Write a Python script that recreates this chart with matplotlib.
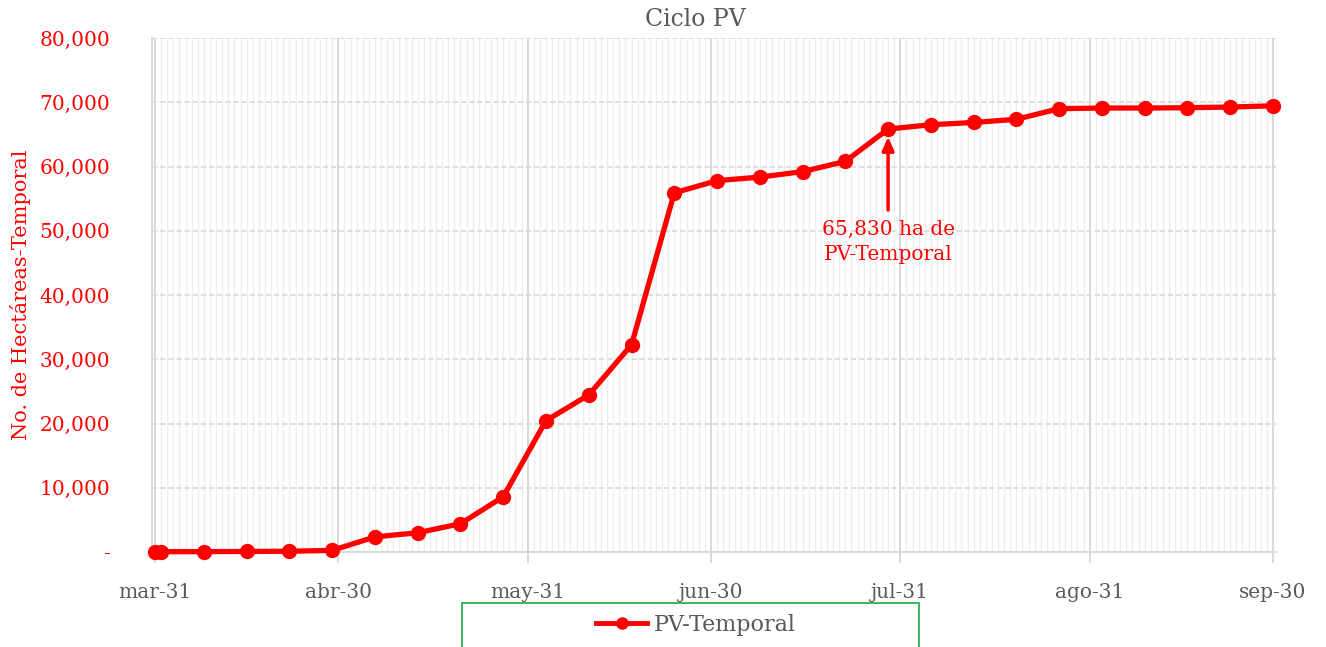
import numpy as np
import pandas as pd
import matplotlib
matplotlib.use("Agg")
import matplotlib.pyplot as plt
from matplotlib.patches import Rectangle
from matplotlib.ticker import FuncFormatter

# weekly cut-off dates and cumulative hectares
fechas = ["2021-03-31", "2021-04-01", "2021-04-08", "2021-04-15", "2021-04-22",
          "2021-04-29", "2021-05-06", "2021-05-13", "2021-05-20", "2021-05-27",
          "2021-06-03", "2021-06-10", "2021-06-17", "2021-06-24", "2021-07-01",
          "2021-07-08", "2021-07-15", "2021-07-22", "2021-07-29", "2021-08-05",
          "2021-08-12", "2021-08-19", "2021-08-26", "2021-09-02", "2021-09-09",
          "2021-09-16", "2021-09-23", "2021-09-30"]
hectareas = [0, 50, 60, 80, 120, 250, 2350, 3000, 4400, 8600,
             20450, 24450, 32250, 55900, 57800, 58350, 59200, 60800, 65830, 66500,
             66850, 67350, 69000, 69100, 69100, 69150, 69250, 69450]

meses = ["2021-03-31", "2021-04-30", "2021-05-31", "2021-06-30",
         "2021-07-31", "2021-08-31", "2021-09-30"]
etiquetas_mes = ["mar-31", "abr-30", "may-31", "jun-30", "jul-31", "ago-31", "sep-30"]

nota_fecha = "2021-07-29"
nota_valor = 65830

rojo = "#ff0000"
gris = "#595959"
plt.rcParams['font.family'] = ['DejaVu Serif']

x = pd.to_datetime(fechas)
xm = pd.to_datetime(meses)

fig = plt.figure(figsize=(13.26, 6.47), dpi=100)
ax = fig.add_axes([152 / 1326, 1 - 552 / 647, (1276 - 152) / 1326, (552 - 38) / 647])

# daily minor grid, monthly major grid
dias = pd.date_range(x[0], x[-1], freq="D")
ax.set_xticks(dias, minor=True)
ax.set_xticks(xm)
ax.set_xticklabels(etiquetas_mes)
ax.grid(which="minor", axis="x", color="#efefef", lw=1)
ax.grid(which="major", axis="x", color="#d9d9d9", lw=1.4)
ax.grid(which="major", axis="y", color="#dcdcdc", lw=1.3, ls=(0, (3, 1.5)))
ax.set_axisbelow(True)

ax.plot(x, hectareas, color=rojo, lw=3.8, marker="o", ms=10, label="PV-Temporal",
        zorder=3, clip_on=False)

ax.set_xlim(x[0] - pd.Timedelta(hours=12), x[-1] + pd.Timedelta(hours=12))
ax.set_ylim(0, 80000)
ax.set_yticks(np.arange(0, 80001, 10000))
ax.yaxis.set_major_formatter(FuncFormatter(lambda v, p: "-" if v == 0 else f"{v:,.0f}"))

for s in ["top", "right"]:
    ax.spines[s].set_visible(False)
for s in ["left", "bottom"]:
    ax.spines[s].set_color("#d9d9d9")
    ax.spines[s].set_linewidth(1.4)

ax.tick_params(axis="y", length=0, labelcolor=rojo, labelsize=14.5, pad=30)
ax.tick_params(axis="x", which="major", length=8, color="#d9d9d9", width=1.4,
               labelcolor=gris, labelsize=14.5, pad=14)
ax.tick_params(axis="x", which="minor", length=0)

fig.text(21 / 1326, 1 - 295 / 647, "No. de Hectáreas-Temporal", color=rojo, fontsize=15,
         rotation=90, ha="center", va="center")
fig.text(695 / 1326, 1 - 20 / 647, "Ciclo PV", color=gris, fontsize=17,
         ha="center", va="center")

# annotation
xn = pd.Timestamp(nota_fecha)
ax.annotate("", xy=(xn, nota_valor - 1200), xytext=(xn, nota_valor - 12600),
            arrowprops=dict(arrowstyle="-|>,head_width=0.35,head_length=0.8",
                            color=rojo, lw=2.5, shrinkA=0, shrinkB=0))
ax.text(xn, nota_valor - 17600, f"{nota_valor:,} ha de\nPV-Temporal", color=rojo,
        fontsize=14.5, ha="center", va="center", linespacing=1.4)

# legend box
fig.patches.append(Rectangle((462 / 1326, -0.05), (919 - 462) / 1326, 0.05 + 1 - 603 / 647,
                             transform=fig.transFigure, fill=False,
                             edgecolor="#2eb050", lw=1.3))
leg = fig.legend(loc="center", bbox_to_anchor=(0.525, 1 - 625 / 647), frameon=False,
                 fontsize=16, handlelength=2.3, handletextpad=0.3, borderpad=0)
for t in leg.get_texts():
    t.set_color(gris)
for h in leg.legend_handles:
    h.set_markersize(8)
    h.set_linewidth(3.5)

fig.savefig("out.png", dpi=100)
